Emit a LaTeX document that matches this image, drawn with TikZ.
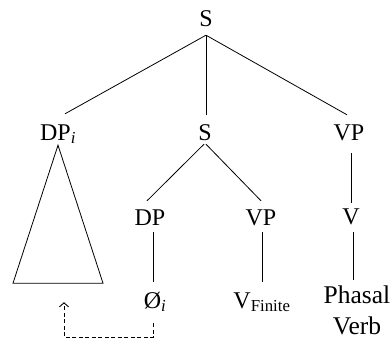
\documentclass[tikz,border=0pt]{standalone}
\usepackage{fontspec}
\setmainfont{Liberation Serif}
\usetikzlibrary{arrows.meta}
\begin{document}
\begin{tikzpicture}[x=1pt,y=1pt,
  lab/.style={inner sep=0pt,text height=16pt,text depth=0pt,anchor=base,font=\fontsize{24}{28}\selectfont},
  br/.style={line width=0.8pt},
  mv/.style={line width=0.9pt,dash pattern=on 4pt off 2.5pt,-{Straight Barb[length=4pt,width=9pt]}}]
\useasboundingbox (0,0) rectangle (391,341);
\node[lab] (S1) at (206,314) {S};
\node[lab] (DPi) at (58,201) {DP\textsubscript{\textit{i}}};
\node[lab] (S2) at (205,201) {S};
\node[lab] (VP1) at (349,201) {VP};
\node[lab] (DP2) at (150,116) {DP};
\node[lab] (VP2) at (261,116) {VP};
\node[lab] (V1) at (351,117) {V};
\node[lab] (O) at (155,33) {Ø\textsubscript{\textit{i}}};
\node[lab] (VF) at (262,33) {V\textsubscript{Finite}};
\node[inner sep=0pt,anchor=north,align=center,font=\fontsize{25.5}{31}\selectfont] (PV) at (357,55) {Phasal\\Verb};
\draw[br] ([yshift=-8]S1.south) -- ([shift={(7,10)}]DPi.north);
\draw[br] ([yshift=-8]S1.south) -- ([shift={(1,9)}]S2.north);
\draw[br] ([yshift=-8]S1.south) -- ([shift={(-2,9)}]VP1.north);
\draw[br] ([yshift=-5]DPi.south) coordinate (apex) -- ++(-45,-138) -- ++(90,0) -- cycle;
\coordinate (base) at ([yshift=-138]apex);
\draw[br] ([shift={(-1,-4)}]S2.south) -- ([shift={(-3,8)}]DP2.north);
\draw[br] ([shift={(1,-4)}]S2.south) -- ([shift={(0,8)}]VP2.north);
\draw[br] ([shift={(2,-13)}]VP1.south) -- ([shift={(0,5)}]V1.north);
\draw[br] ([shift={(3,-7)}]DP2.south) -- ([shift={(-2,10)}]O.north);
\draw[br] ([shift={(1,-7)}]VP2.south) -- ([shift={(0,10)}]VF.north);
\draw[br] ([shift={(2,-8)}]V1.south) -- ([shift={(-4,6)}]PV.north);
\draw[mv] ([shift={(-2,-15)}]O.south) -- ++(0,-14) -| ([shift={(6,-19)}]base);
\end{tikzpicture}
\end{document}
